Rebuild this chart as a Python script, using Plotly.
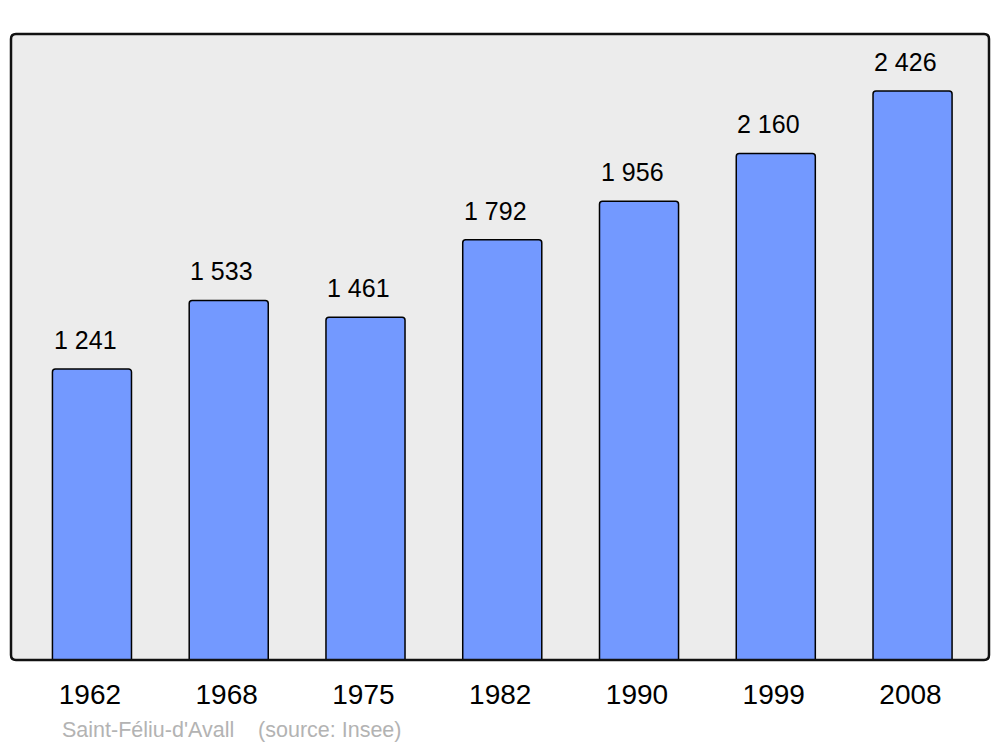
import plotly.graph_objects as go

years = ["1962", "1968", "1975", "1982", "1990", "1999", "2008"]
population = [1241, 1533, 1461, 1792, 1956, 2160, 2426]
caption = "Saint-Féliu-d'Avall\u00a0\u00a0\u00a0\u00a0(source: Insee)"

FONT = "Liberation Sans, Arial, sans-serif"
idx = list(range(len(years)))

def fmt(v):
    return f"{v:,}".replace(",", " ")

W, H = 1000, 747
L, R, T, B = 11, 11, 34, 87
pw, ph = W - L - R, H - T - B

fig = go.Figure()
fig.add_trace(go.Bar(
    x=idx, y=population, width=0.578,
    marker=dict(color="#7399ff", line=dict(color="#000000", width=1.5)),
    hoverinfo="skip",
))

annotations = []
for i, v in zip(idx, population):
    annotations.append(dict(
        x=i - 0.05, y=v, xref="x", yref="y", text=fmt(v), showarrow=False,
        yanchor="bottom", yshift=13, font=dict(family=FONT, size=25, color="#000000"),
    ))
cap_x = (60 - L) / pw
cap_y = -(730 - (H - B)) / ph
annotations.append(dict(
    x=cap_x, y=cap_y, xref="paper", yref="paper", text=caption, showarrow=False,
    xanchor="left", yanchor="middle",
    font=dict(family=FONT, size=21.5, color="#b3b3b3"),
))

rx, ry = 5 / pw, 5 / ph
path = (f"M {rx},0 L {1-rx},0 Q 1,0 1,{ry} L 1,{1-ry} Q 1,1 {1-rx},1 "
        f"L {rx},1 Q 0,1 0,{1-ry} L 0,{ry} Q 0,0 {rx},0 Z")

fig.update_layout(
    width=W, height=H,
    margin=dict(l=L, r=R, t=T, b=B),
    paper_bgcolor="#ffffff", plot_bgcolor="#ffffff",
    showlegend=False, barcornerradius=3,
    font=dict(family=FONT),
    annotations=annotations,
    shapes=[
        dict(type="path", path=path, xref="paper", yref="paper",
             fillcolor="#ececec", line=dict(width=0), layer="below"),
        dict(type="path", path=path, xref="paper", yref="paper",
             fillcolor="rgba(0,0,0,0)", line=dict(color="#111111", width=2.5), layer="above"),
    ],
    xaxis=dict(range=[-0.592, 6.559], tickmode="array", tickvals=[i - 0.015 for i in idx],
               ticktext=years, showgrid=False, zeroline=False, showline=False,
               ticks="", tickfont=dict(family=FONT, size=28, color="#000000"),
               ticklabelstandoff=15),
    yaxis=dict(range=[0, 2669], showgrid=False, zeroline=False, showline=False,
               showticklabels=False, ticks=""),
)

fig.write_html("out.html", config={"displayModeBar": False},
               post_script="document.body.style.margin='0';document.body.style.overflow='hidden';")
